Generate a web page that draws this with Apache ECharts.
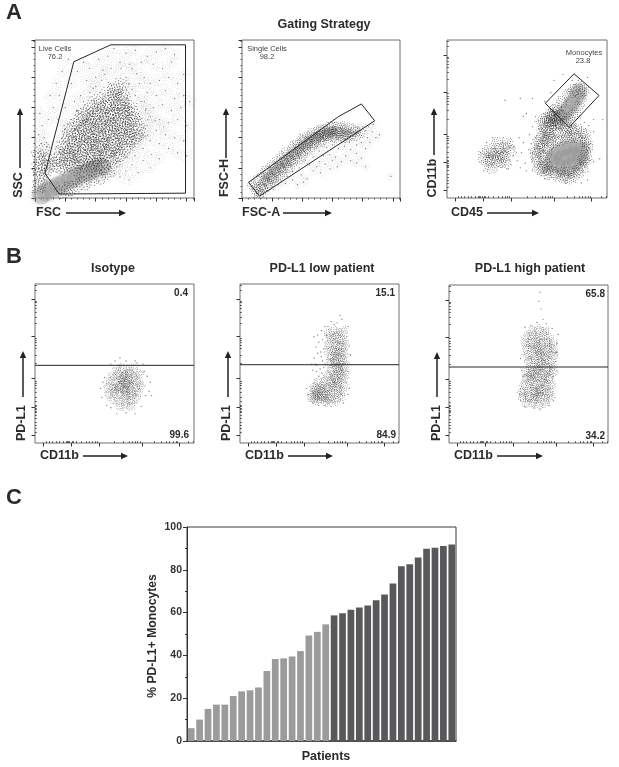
<!DOCTYPE html>
<html><head><meta charset="utf-8"><style>html,body{margin:0;padding:0;background:#fff}#c{width:619px;height:767px}</style>
<script src="https://cdn.jsdelivr.net/npm/echarts@6/dist/echarts.min.js"></script></head><body><div id="c"></div><script>
// ---- Panel C values
const pdl1Low=[6,10,15,17,17,21,23.2,23.7,25,32.7,38.3,38.6,39.5,42,49.3,51,54.5];
const pdl1High=[58.7,59.7,61.3,62.4,63.3,65.8,68.5,73.6,81.7,82.6,85.8,89.8,90.3,91.1,91.8];
const yTicksC=[0,20,40,60,80,100];
// ---- Logicle tick positions (channel scale 0-262)
const logMajor=[13,59,106,176,237];
const logMinor=[18,24,29,35,40,46,51,53,55,57,61,63,68,76,84,90,95,99,102,131,145,156,161,166,169,173,197,208,216,222,227,232,234,252,260];
// ---- Flow panels: dense = stippled areas, dots = sparse events, core = grey density ridge, gate = gate outline (channels)
const a1Dense=[32,54,44,50,56,55,66,49,78,53,90,50,101,56,112,51,36,63,47,60,58,66,69,61,80,64,92,59,103,65,115,60,125,64,42,71,53,75,63,70,74,73,85,70,96,76,107,71,118,74,129,69,138,73,49,84,60,80,71,85,81,81,92,84,103,80,113,86,124,81,135,84,146,79,52,93,63,90,74,95,85,91,95,94,106,90,117,96,128,91,139,94,150,90,159,95,56,103,67,100,78,105,89,101,100,104,111,99,122,106,133,101,144,104,155,100,166,103,60,113,71,110,82,115,93,111,104,114,115,110,126,116,137,111,148,114,159,110,170,113,68,124,79,120,90,125,101,121,112,124,123,120,134,126,145,121,156,124,167,120,75,131,86,135,97,130,108,134,119,131,130,135,141,130,152,134,163,131,84,143,95,140,106,145,117,141,128,144,139,140,150,145,161,141,92,151,103,155,114,150,125,154,136,151,147,155,158,150,105,163,123,165,134,161,145,164,121,175,132,170,143,174,131,180,142,187,6,20,12,28,8,38,15,42,6,50,12,58,7,68,18,52,14,80,22,62,45,10,55,14,68,20,80,25,92,30,105,35,118,42];
const a1Dots=[130,248,150,240,165,245,185,235,200,242,215,248,230,238,175,225,195,222,210,215,225,225,160,215,140,225,120,235,105,230,180,200,190,190,205,195,220,200,235,190,245,205,172,190,185,175,200,170,215,178,230,165,245,170,180,160,195,150,210,155,225,145,240,150,255,160,190,135,205,130,220,125,235,130,250,120,185,120,200,112,215,105,230,100,245,95,178,105,190,95,205,90,220,82,235,75,250,70,165,90,178,82,192,72,205,65,165,70,178,62,190,50,160,55,170,42,140,55,150,45,130,45,140,35,120,40,155,30,8,140,12,120,6,105,15,100,10,90,20,85,5,75,14,70,22,130,30,150,25,170,35,190,45,210,55,230,40,170,50,150,38,130,60,190,70,210,80,225,85,195,75,170,65,160,48,120,90,215,100,200,183,148,176,132,168,206,156,222,112,212,96,182,198,128,186,104,212,118,172,98,150,68,134,58,125,50,40,75,35,85,45,100,50,115,60,130,70,145,80,160,90,175,100,185,110,195,165,170,175,160,182,145,186,130,182,115,175,100,165,85,155,75,145,62,135,52,125,45,160,180,150,200,115,205,125,215,142,215,155,190,133,198];
const a1Core=[10,5,18,10,28,15,38,20,48,25,58,31,68,36,78,40,88,44,98,48,108,52];
const a1Gate=[64,226,125,254,248,254,248,8,40,6.6,16.5,41,64,226];

const a2Dense=[22,14,30,20,38,28,46,35,54,44,62,52,70,58,78,66,86,72,94,80,102,86,110,92,118,97,126,102,134,106,142,108,150,110,158,110,166,112,174,110,182,108,28,8,36,14,44,22,52,30,60,36,68,44,76,50,84,58,92,64,100,70,108,78,116,84,124,90,132,94,140,98,148,102,156,100,164,102,172,100,180,102,190,104,196,108,188,112,178,116,168,118,158,118,18,22,26,30,34,38,42,46,50,54,58,62,66,68,74,76,84,84,92,90,100,96,108,102,116,108,124,110,132,113,140,116,150,118,26,12,34,18,42,26,50,33,58,42,66,49,74,56,82,63,90,71,98,77,106,84,114,90,122,96,130,100,138,103,146,106,154,106,162,107,170,106];
const a2Dots=[60,22,72,24,84,30,92,22,98,38,108,32,118,45,112,55,124,52,130,42,138,56,146,48,150,62,158,52,135,70,145,72,155,68,165,60,172,70,180,62,160,82,170,86,180,80,190,74,198,66,205,82,212,92,222,100,216,110,208,100,198,92,190,88,178,92,228,105,200,118,210,118,218,122,205,112,192,118,84,44,95,50,105,62,118,68,128,78,140,84,102,26,75,36,65,28,50,18,42,12,35,6,150,88,165,92,128,60,190,58,205,52,247,36];
const a2Core=[40,35,50,44,60,54,70,62,80,71,90,79,100,88,110,95,120,102,130,106,140,110,150,112];
const a2Gate=[11,26,160,135,198,156,220,128,29,3,11,26];

const a3Dense=[180,38,190,34,200,32,208,36,215,42,172,44,164,52,158,60,222,50,226,60,228,72,230,84,228,96,226,106,160,70,165,82,172,90,182,95,192,98,202,100,212,102,220,108,205,110,195,108,150,75,156,88,162,98,150,90,158,105,165,112,172,120,168,105,178,110,175,130,182,125,165,128,158,118,185,135,172,138,160,132,178,145,188,112,196,118,204,118,212,114,148,60,145,68,150,50,158,45,165,40,172,128,180,125,192,126,200,130,208,138,214,150,220,165,224,178,218,184,208,180,198,172,188,160,178,148,170,138,186,138,60,68,66,58,72,75,78,62,84,82,90,72,96,84,88,60,74,50,82,92,100,90,66,78,92,68,78,72,70,64,84,70,104,78,95,58,153,100,160,112,168,122,164,95,172,100,178,122,156,126,168,134,176,138,152,82,146,78,185,42,195,38,206,44,218,55,224,66,226,90,158,52,165,46];
const a3Dots=[108,70,115,62,122,75,128,58,134,80,140,66,110,85,120,50,130,45,138,90,125,92,145,100,135,105,118,100,60,45,55,75,65,92,75,100,92,100,105,55,100,48,150,115,140,118,158,140,150,128,145,135,130,140,160,160,170,175,140,165,175,195,190,205,125,135,120,165,95,162,210,120,225,125,240,110,232,120,240,60,255,130,250,65,230,30,220,25,195,25,178,28,160,32,148,40,140,45,205,195,230,200,215,195,240,130];
const a3Core=[172,62,180,54,190,50,200,52,210,58,218,68,220,80,212,86,202,84,192,82,182,76,175,70,198,68,208,72,188,66,194,142,200,150,206,158,212,168,216,176,188,134];
const a3Gate=[208,206,249,170,200,117,161,157,208,206];

const b1Dense=[140,60,150,64,158,60,128,72,138,70,148,74,158,71,166,74,122,80,131,84,141,81,150,85,160,80,170,84,120,92,129,90,138,94,148,90,157,94,166,91,174,95,124,102,133,100,143,104,152,100,161,104,170,100,128,110,137,114,146,110,155,114,165,110,172,114,135,120,145,123,155,119,163,124,140,95,146,100,152,96,148,88,142,106,155,106,136,88,158,86,148,112,150,78];
const b1Dots=[125,130,132,135,140,140,165,135,168,132,178,130,108,90,110,75,115,108,118,62,125,58,135,48,150,50,165,48,175,60,182,78,188,85,190,100,185,110,180,118,192,78,112,100,138,128,153,128,150,135];
const b1Gate=[0,128,262,128];

const b2Dense=[118,74,126,70,134,72,142,68,150,72,158,70,166,76,120,82,128,80,136,84,144,80,152,84,160,82,168,86,122,92,130,90,138,94,146,90,154,94,162,92,170,96,128,100,140,102,150,100,158,104,168,106,145,110,155,112,165,114,172,112,150,120,158,124,166,120,172,126,148,132,156,134,164,130,170,136,150,142,158,144,166,140,172,146,146,152,154,154,162,150,170,156,148,162,156,164,164,160,172,166,150,172,158,174,166,170,146,180,154,184,162,180,170,184,124,76,130,78,138,76,146,74,124,86,134,88,160,150,158,136,162,122,156,108,160,98];
const b2Dots=[120,120,126,128,132,122,136,135,122,140,128,148,134,142,138,155,125,158,130,166,136,170,128,178,134,185,140,192,122,175,118,130,135,115,130,110,126,118,138,125,124,130,133,150,140,165,142,178,150,200,160,198,168,204,178,192,176,175,180,160,182,145,180,130,178,118,175,100,180,90,150,60,140,62,130,62,120,66,112,80,110,90,170,66,178,80,165,210,155,195,145,192];
const b2Gate=[0,129,262,129];

const b3Dense=[138,186,148,188,158,185,128,176,137,178,146,174,155,178,164,175,126,166,135,164,144,168,153,164,162,168,170,165,128,156,137,158,146,154,155,158,164,155,172,157,130,146,139,144,148,148,157,144,166,148,173,145,132,136,141,138,150,134,159,138,168,135,135,126,144,124,153,128,162,125,170,127,136,116,145,118,154,114,163,118,128,106,137,104,146,108,155,104,164,107,124,96,133,98,142,94,151,98,160,95,168,98,122,86,131,84,140,88,149,84,158,87,167,84,122,76,131,78,140,74,149,78,158,75,166,77,128,66,138,68,148,64,158,67,128,118,170,116,141,111,158,112,148,122,132,112,150,152,145,160,152,142,142,84,150,90,146,78];
const b3Dots=[150,250,148,235,152,222,155,205,145,200,160,198,135,195,125,192,170,190,180,180,178,165,177,150,176,135,178,120,172,110,118,90,116,80,118,70,125,60,140,58,150,55,165,62,172,70,118,140,120,120,122,110];
const b3Gate=[0,126,262,126];

const pairs=a=>{const o=[];for(let i=0;i<a.length;i+=2)o.push([a[i],a[i+1]]);return o;};
const speck=[1,3,5,1,10,0,15,3,20,1,22.5,5,3,7,8,5,12,7,17,8,21,9,0,11,5,11,10,12,15,12,19,13,2,16,7,16,12,17,17,17,22,16,4,21,9,20,14,22,19,21,22.5,22.5];
const STIPPLE='path://'+pairs(speck).map(([x,y])=>'M'+x+' '+y+'h1.5v1.5h-1.5z').join(' ');
const INK='#2a2a2a', FRAME='#6e6e6e';

const panels=[
 {rect:[35,40,159,158],scale:'lin',dense:a1Dense,dots:a1Dots,core:a1Core,gate:a1Gate,stamp:14,op:.8,coreSize:19,halo:11},
 {rect:[242,40,158,158],scale:'lin',dense:a2Dense,dots:a2Dots,core:a2Core,gate:a2Gate,stamp:10,op:1,coreSize:9,halo:8},
 {rect:[447,40,160,158],scale:'log',dense:a3Dense,dots:a3Dots,core:a3Core,gate:a3Gate,stamp:11,op:1,coreSize:16,halo:0},
 {rect:[35,284,159,159],scale:'log',dense:b1Dense,dots:b1Dots,core:[],gate:b1Gate,stamp:8.5,op:1,coreSize:0,halo:0},
 {rect:[240,284,159,159],scale:'log',dense:b2Dense,dots:b2Dots,core:[],gate:b2Gate,stamp:9,op:1,coreSize:0,halo:0},
 {rect:[449,285,159,158],scale:'log',dense:b3Dense,dots:b3Dots,core:[],gate:b3Gate,stamp:9,op:1,coreSize:0,halo:0}
];

const grid=[],xAxis=[],yAxis=[],series=[];
const tickStyle={color:'#333',width:1};
panels.forEach((p,i)=>{
  grid.push({left:p.rect[0],top:p.rect[1],width:p.rect[2],height:p.rect[3],show:true,borderColor:FRAME,borderWidth:1,backgroundColor:'#fff'});
  const base={gridIndex:i,type:'value',min:0,max:262,axisLine:{show:false},axisLabel:{show:false},splitLine:{show:false}};
  let xi,yi;
  if(p.scale==='lin'){
    const a=Object.assign({},base,{interval:50,axisTick:{show:true,length:3.5,lineStyle:tickStyle},minorTick:{show:true,splitNumber:5,length:1.5,lineStyle:{color:'#555',width:1}}});
    xi=xAxis.length;xAxis.push(Object.assign({},a));yi=yAxis.length;yAxis.push(Object.assign({},a));
  }else{
    const maj=Object.assign({},base,{axisTick:{show:true,customValues:logMajor,length:3.5,lineStyle:tickStyle}});
    const min=Object.assign({},base,{axisTick:{show:true,customValues:logMinor,length:1.8,lineStyle:{color:'#555',width:1}}});
    xi=xAxis.length;xAxis.push(Object.assign({},maj),Object.assign({},min));
    yi=yAxis.length;yAxis.push(Object.assign({},maj),Object.assign({},min));
  }
  const ax={xAxisIndex:xi,yAxisIndex:yi,silent:true,animation:false,clip:true};
  const rot=(v,q)=>(q.dataIndex*47)%360;
  if(p.core.length)series.push(Object.assign({},ax,{type:'scatter',z:2,symbolSize:p.coreSize,data:pairs(p.core),itemStyle:{color:'#8f8f8f',opacity:.3,shadowBlur:4,shadowColor:'#aaa'}}));
  if(p.halo)series.push(Object.assign({},ax,{type:'scatter',z:2,symbol:STIPPLE,symbolSize:p.halo,symbolRotate:rot,data:pairs(p.dots),itemStyle:{color:'#555',opacity:.3}}));
  series.push(Object.assign({},ax,{type:'scatter',z:3,symbol:STIPPLE,symbolSize:p.stamp,symbolRotate:rot,data:pairs(p.dense),itemStyle:{color:INK,opacity:p.op}}));
  series.push(Object.assign({},ax,{type:'scatter',z:3,symbolSize:1.4,data:pairs(p.dots),itemStyle:{color:'#666'}}));
  series.push(Object.assign({},ax,{type:'line',z:4,symbol:'none',data:pairs(p.gate),lineStyle:{color:'#262626',width:1}}));
});

// Panel C
const gc=grid.length;
grid.push({left:187,top:527,width:269,height:214,show:true,borderColor:'#3a3a3a',borderWidth:1,backgroundColor:'#fff'});
const patients=pdl1Low.concat(pdl1High).map((_,i)=>'P'+(i+1));
xAxis.push({gridIndex:gc,type:'category',data:patients,axisTick:{show:false},axisLabel:{show:false},axisLine:{lineStyle:{color:'#333',width:1.5}}});
yAxis.push({gridIndex:gc,type:'value',min:yTicksC[0],max:yTicksC[yTicksC.length-1],interval:20,splitLine:{show:false},
  axisLine:{show:true,lineStyle:{color:'#333',width:1}},axisTick:{show:true,length:4,lineStyle:{color:'#333'}},minorTick:{show:true,splitNumber:2,length:2,lineStyle:{color:'#333'}},
  axisLabel:{fontFamily:'Liberation Sans',fontWeight:'bold',fontSize:10.5,color:'#333',margin:5}});
const cx=xAxis.length-1,cy=yAxis.length-1;
const pad=n=>new Array(n).fill(null);
series.push({type:'bar',xAxisIndex:cx,yAxisIndex:cy,stack:'p',barCategoryGap:'20%',animation:false,data:pdl1Low.concat(pad(pdl1High.length)),itemStyle:{color:'#9b9b9b'}});
series.push({type:'bar',xAxisIndex:cx,yAxisIndex:cy,stack:'p',barCategoryGap:'20%',animation:false,data:pad(pdl1Low.length).concat(pdl1High),itemStyle:{color:'#58585a'}});

// Text and arrows
const F='Liberation Sans';
const T=(text,x,y,o={})=>({type:'text',x,y,rotation:o.rot||0,z:10,style:{text,fill:o.fill||'#2b2b2b',font:(o.w||'bold')+' '+(o.s||12.5)+'px "'+F+'"',textAlign:o.a||'center',textVerticalAlign:'middle'}});
const H=(x1,x2,y)=>[{type:'line',z:10,shape:{x1,y1:y,x2:x2-4,y2:y},style:{stroke:'#222',lineWidth:1.5}},{type:'polygon',z:10,shape:{points:[[x2,y],[x2-7,y-3.2],[x2-7,y+3.2]]},style:{fill:'#222'}}];
const V=(x,y1,y2)=>[{type:'line',z:10,shape:{x1:x,y1,x2:x,y2:y2+4},style:{stroke:'#222',lineWidth:1.5}},{type:'polygon',z:10,shape:{points:[[x,y2],[x-3.2,y2+7],[x+3.2,y2+7]]},style:{fill:'#222'}}];
const R=Math.PI/2;
const graphic=[
 T('A',14,13,{s:22}),T('B',14,257,{s:22}),T('C',14,498,{s:22}),
 T('Gating Strategy',324,25),T('Isotype',113,269),T('PD-L1 low patient',322,269),T('PD-L1 high patient',530,269),
 T('Live Cells',55,49,{w:'normal',s:7.5,fill:'#444'}),T('76.2',55,57,{w:'normal',s:7.5,fill:'#444'}),
 T('Single Cells',267,49,{w:'normal',s:7.5,fill:'#444'}),T('98.2',267,57,{w:'normal',s:7.5,fill:'#444'}),
 T('Monocytes',584,53,{w:'normal',s:7.5,fill:'#444'}),T('23.8',583,61,{w:'normal',s:7.5,fill:'#444'}),
 T('SSC',19,185,{rot:R}),T('FSC',36,213,{a:'left'}),T('FSC-H',225,178,{rot:R}),T('FSC-A',242,213,{a:'left'}),
 T('CD11b',433,178,{rot:R}),T('CD45',451,213,{a:'left'}),
 T('PD-L1',22,423,{rot:R}),T('CD11b',40,456,{a:'left'}),T('PD-L1',227,423,{rot:R}),T('CD11b',245,456,{a:'left'}),T('PD-L1',437,423,{rot:R}),T('CD11b',454,456,{a:'left'}),
 T('0.4',188,293,{a:'right',s:10}),T('99.6',189,435,{a:'right',s:10}),T('15.1',395,293,{a:'right',s:10}),T('84.9',396,435,{a:'right',s:10}),T('65.8',605,294,{a:'right',s:10}),T('34.2',605,436,{a:'right',s:10}),
 T('% PD-L1+ Monocytes',153,636,{rot:R,s:12.2}),T('Patients',326,757,{s:12.5}),
 ...H(66,126,213),...V(20,168,108),...H(283,332,213),...V(226,158,108),...H(487,539,213),...V(434,155,108),
 ...H(83,128,456),...V(23,397,351),...H(288,333,456),...V(228,397,351),...H(497,543,456),...V(437,397,352)
];
const chart=echarts.init(document.getElementById('c'),null,{renderer:'canvas'});
chart.setOption({animation:false,backgroundColor:'#fff',grid,xAxis,yAxis,series,graphic});
</script></body></html>
